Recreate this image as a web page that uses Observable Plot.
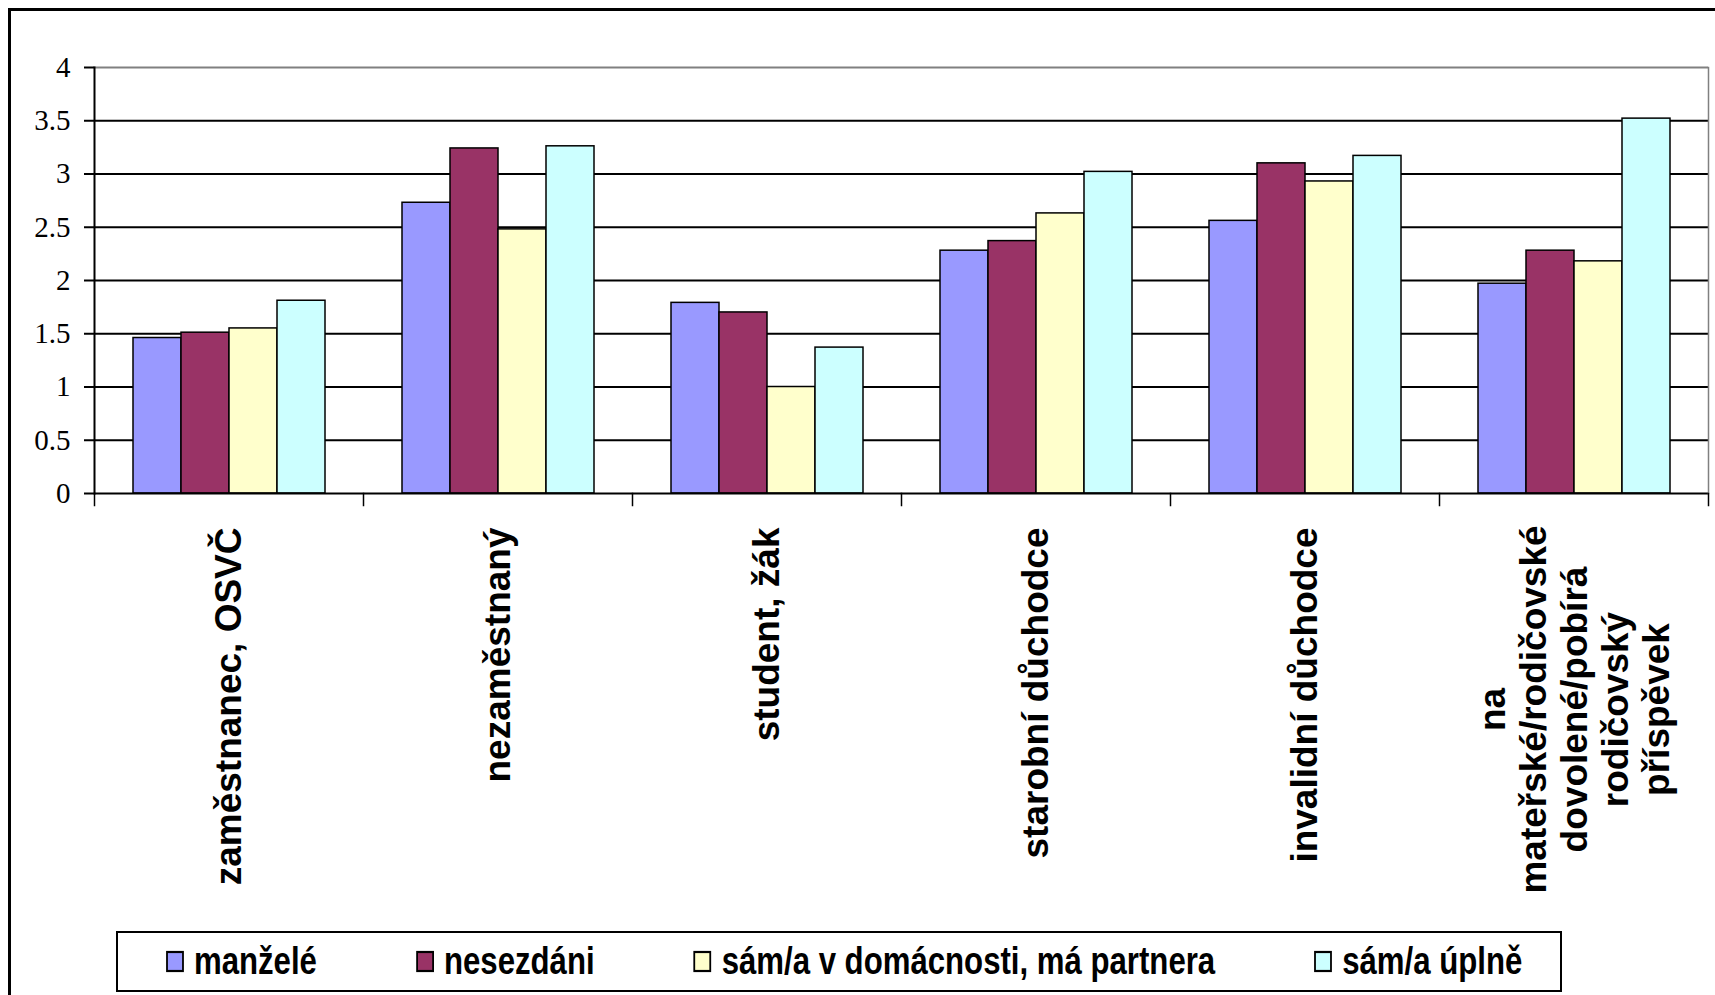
<!DOCTYPE html>
<html>
<head>
<meta charset="utf-8">
<script src="https://cdn.jsdelivr.net/npm/d3@7"></script>
<script src="https://cdn.jsdelivr.net/npm/@observablehq/plot@0.6"></script>
<style>
  html, body { margin: 0; padding: 0; background: #fff; width: 1715px; height: 995px; overflow: hidden; }
  #chart { position: absolute; left: 0; top: 0; }
  #chart svg { background: transparent !important; max-width: none !important; }
  #frame { position: absolute; left: 8px; top: 8px; width: 1800px; height: 1100px; border: 3px solid #000; box-sizing: border-box; background: transparent; pointer-events: none; }
  #legend { position: absolute; left: 116px; top: 931px; width: 1446px; height: 61px; border: 2.5px solid #000; box-sizing: border-box; background: #fff; display: flex; align-items: center; padding-left: 49px; overflow: hidden; }
  #legend > div { margin: 0 !important; padding: 0 !important; display: flex !important; flex-wrap: nowrap !important; align-items: center !important; min-height: 0 !important;
    font-family: "Liberation Sans", Arial, sans-serif !important; font-weight: bold !important; font-size: 38px !important; color: #000 !important; white-space: nowrap;
    transform: scaleX(0.82); transform-origin: left center; flex: none; }
  #legend > div > *:not(style) { display: inline-flex !important; align-items: center !important; margin: 0 122px 0 0 !important; white-space: nowrap; }
  #legend svg { margin-right: 13.4px !important; overflow: visible !important; flex: none; }
  #legend svg rect { stroke: #000; stroke-width: 2.2px; }
</style>
</head>
<body>
<div id="chart"></div>
<div id="legend"></div>
<div id="frame"></div>
<script>
// ---- data ----
const categories = [
  "zaměstnanec, OSVČ",
  "nezaměstnaný",
  "student, žák",
  "starobní důchodce",
  "invalidní důchodce",
  "na mateřské/rodičovské dovolené/pobírá rodičovský příspěvek"
];
const categoryLabels = [
  "zaměstnanec, OSVČ",
  "nezaměstnaný",
  "student, žák",
  "starobní důchodce",
  "invalidní důchodce",
  "na\nmateřské/rodičovské\ndovolené/pobírá\nrodičovský\npříspěvek"
];
const series = ["manželé", "nesezdáni", "sám/a v domácnosti, má partnera", "sám/a úplně"];
const seriesColors = ["#9999FF", "#993366", "#FFFFCC", "#CCFFFF"];

const manzele    = [1.46, 2.73, 1.79, 2.28, 2.56, 1.97];
const nesezdani  = [1.51, 3.24, 1.70, 2.37, 3.10, 2.28];
const samPartner = [1.55, 2.48, 1.00, 2.63, 2.93, 2.18];
const samUplne   = [1.81, 3.26, 1.37, 3.02, 3.17, 3.52];

const yTicks = [0, 0.5, 1, 1.5, 2, 2.5, 3, 3.5, 4];

// ---- table ----
const valuesBySeries = [manzele, nesezdani, samPartner, samUplne];
const data = categories.flatMap((c, i) =>
  series.map((s, j) => ({category: c, series: s, value: valuesBySeries[j][i]}))
);
const labelOf = new Map(categories.map((c, i) => [c, categoryLabels[i]]));
const singleLine = categories.filter(c => !labelOf.get(c).includes("\n"));
const multiLine = categories.filter(c => labelOf.get(c).includes("\n"));

// ---- layout ----
const W = 1715, H = 925;
const mT = 67, mL = 94, mR = 7, mB = H - 493;
const plotH = H - mT - mB;
const labelFont = "'Liberation Sans', Arial, sans-serif";

const chart = Plot.plot({
  width: W,
  height: H,
  marginTop: mT,
  marginBottom: mB,
  marginLeft: mL,
  marginRight: mR,
  style: {background: "transparent", overflow: "visible", color: "#000"},
  fx: {domain: categories, padding: 0, axis: null},
  x: {domain: series, paddingInner: 0, paddingOuter: 0.745, axis: null},
  y: {domain: [0, 4], axis: null},
  color: {domain: series, range: seriesColors},
  marks: [
    Plot.ruleY(yTicks.filter(d => d > 0 && d < 4), {stroke: "#000", strokeWidth: 2}),
    Plot.ruleY([4], {stroke: "#808080", strokeWidth: 2}),
    Plot.barY(data, {fx: "category", x: "series", y: "value", fill: "series", stroke: "#000", strokeWidth: 1.5, inset: 0}),
    Plot.ruleY([0], {stroke: "#000", strokeWidth: 2}),
    Plot.frame({anchor: "left", facetAnchor: "left", stroke: "#000", strokeWidth: 2, clip: false}),
    Plot.frame({anchor: "right", facetAnchor: "right", stroke: "#808080", strokeWidth: 1.5, clip: false}),
    Plot.frame({anchor: "left", insetTop: plotH, insetBottom: -12, stroke: "#000", strokeWidth: 1.5, clip: false}),
    Plot.frame({anchor: "right", facetAnchor: "right", insetTop: plotH, insetBottom: -12, stroke: "#000", strokeWidth: 1.5, clip: false}),
    Plot.axisY({
      ticks: yTicks, tickSize: 10, tickPadding: 14, strokeWidth: 2, label: null,
      tickFormat: d => String(d),
      fontSize: 29, fontFamily: "'Liberation Serif', 'Times New Roman', serif", fill: "#000"
    }),
    Plot.text(singleLine, {
      fx: d => d, text: d => labelOf.get(d), frameAnchor: "bottom", rotate: -90,
      textAnchor: "end", lineAnchor: "middle", dy: 34, fontSize: 37, fontWeight: "bold", fontFamily: labelFont, fill: "#000"
    }),
    Plot.text(multiLine, {
      fx: d => d, text: d => labelOf.get(d), frameAnchor: "bottom", rotate: -90,
      textAnchor: "middle", lineAnchor: "middle", lineHeight: 1.11, dy: 216, fontSize: 37, fontWeight: "bold", fontFamily: labelFont, fill: "#000"
    })
  ]
});
document.getElementById("chart").appendChild(chart);

const legend = Plot.legend({
  color: {domain: series, range: seriesColors},
  legend: "swatches",
  swatchWidth: 19.5,
  swatchHeight: 19,
  className: "lg"
});
document.getElementById("legend").appendChild(legend);
</script>
</body>
</html>
